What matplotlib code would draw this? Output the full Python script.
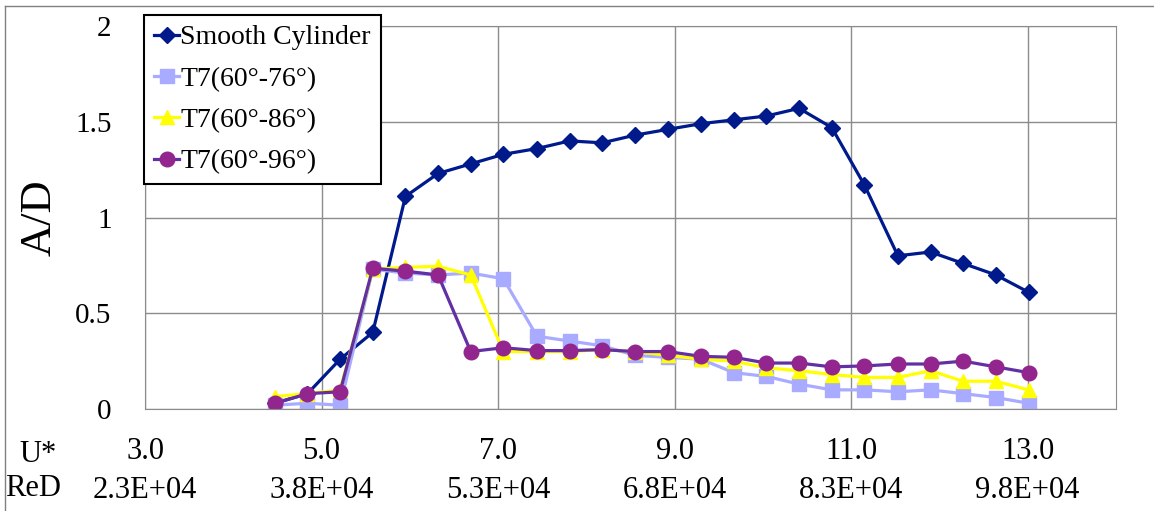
import matplotlib
matplotlib.use("Agg")
import matplotlib.pyplot as plt
from matplotlib.lines import Line2D

plt.rcParams['font.family'] = ['Liberation Serif', 'DejaVu Serif']

# reduced velocity U* of each measurement
u_star = [4.47, 4.84, 5.21, 5.58, 5.95, 6.32, 6.69, 7.06, 7.44, 7.81, 8.18, 8.55,
          8.92, 9.30, 9.67, 10.04, 10.41, 10.78, 11.15, 11.53, 11.90, 12.27, 12.64, 13.01]

smooth = [0.03, 0.08, 0.26, 0.40, 1.11, 1.23, 1.28, 1.33, 1.36, 1.40, 1.39, 1.43,
          1.46, 1.49, 1.51, 1.53, 1.57, 1.47, 1.17, 0.80, 0.82, 0.76, 0.70, 0.61]
t7_76 = [0.02, 0.03, 0.02, 0.73, 0.71, 0.70, 0.71, 0.68, 0.38, 0.355, 0.33, 0.28,
         0.27, 0.26, 0.19, 0.17, 0.13, 0.10, 0.10, 0.09, 0.10, 0.08, 0.06, 0.03]
t7_86 = [0.065, 0.08, 0.10, 0.73, 0.74, 0.745, 0.70, 0.30, 0.30, 0.30, 0.31, 0.30,
         0.28, 0.26, 0.25, 0.215, 0.20, 0.18, 0.165, 0.165, 0.20, 0.145, 0.145, 0.10]
t7_96 = [0.03, 0.08, 0.09, 0.735, 0.72, 0.70, 0.30, 0.32, 0.305, 0.305, 0.31, 0.30,
         0.30, 0.275, 0.27, 0.24, 0.24, 0.22, 0.225, 0.235, 0.235, 0.25, 0.22, 0.19]

u_ticks = [3.0, 5.0, 7.0, 9.0, 11.0, 13.0]
u_labels = ["3.0", "5.0", "7.0", "9.0", "11.0", "13.0"]
red_labels = ["2.3E+04", "3.8E+04", "5.3E+04", "6.8E+04", "8.3E+04", "9.8E+04"]
y_ticks = [0, 0.5, 1, 1.5, 2]
y_labels = ["0", "0.5", "1", "1.5", "2"]

fig = plt.figure(figsize=(11.54, 5.11), dpi=100)
ax = fig.add_axes([0.1257, 0.1996, 0.8413, 0.7495])

ax.plot(u_star, smooth, color='#001A8C', lw=2.3, marker='D', ms=8.5,
        label='Smooth Cylinder')
ax.plot(u_star, t7_76, color='#A8ABFF', lw=2.3, marker='s', ms=9.5,
        label='T7(60°-76°)')
ax.plot(u_star, t7_86, color='#FFFF00', lw=2.3, marker='^', ms=10,
        label='T7(60°-86°)')
ax.plot(u_star, t7_96, color='#6230A4', lw=2.3, marker='o', ms=10.5,
        mfc='#92258E', mec='#92258E', label='T7(60°-96°)')

ax.set_xlim(3, 14)
ax.set_ylim(0, 2)
ax.set_xticks(u_ticks)
ax.set_xticklabels(u_labels, fontsize=22)
ax.set_yticks(y_ticks)
ax.set_yticklabels(y_labels, fontsize=21)
ax.tick_params(axis='both', length=0)
ax.tick_params(axis='y', pad=24)
ax.tick_params(axis='x', pad=20)
ax.grid(True, color='#8c8c8c', lw=1)
ax.set_axisbelow(True)
for s in ax.spines.values():
    s.set_color('#8c8c8c')

sec = ax.secondary_xaxis(-0.175)
sec.set_xticks(u_ticks)
sec.set_xticklabels(red_labels, fontsize=22)
sec.tick_params(length=0, pad=0)
sec.spines['bottom'].set_visible(False)

ax.set_ylabel('A/D', fontsize=32)
ax.yaxis.set_label_coords(-0.088, 0.5)
fig.text(38 / 1154, 1 - 454 / 511, 'U*', fontsize=22, ha='center', va='center')
fig.text(33 / 1154, 1 - 488 / 511, 'ReD', fontsize=22, ha='center', va='center')

leg = ax.legend(loc='upper left', bbox_to_anchor=(144 / 1154, 1 - 15 / 511),
                bbox_transform=fig.transFigure, borderaxespad=0, fontsize=20,
                handlelength=0.9, handletextpad=0.05, labelspacing=0.57,
                borderpad=0.36, fancybox=False, framealpha=1, edgecolor='black')
leg.get_frame().set_linewidth(1.5)

# outer chart border
fig.add_artist(Line2D([5 / 1154, 1], [1 - 6 / 511, 1 - 6 / 511], color='#808080', lw=1,
                      transform=fig.transFigure))
fig.add_artist(Line2D([5 / 1154, 5 / 1154], [0, 1 - 6 / 511], color='#808080', lw=1,
                      transform=fig.transFigure))

fig.savefig('out.png', dpi=100)
